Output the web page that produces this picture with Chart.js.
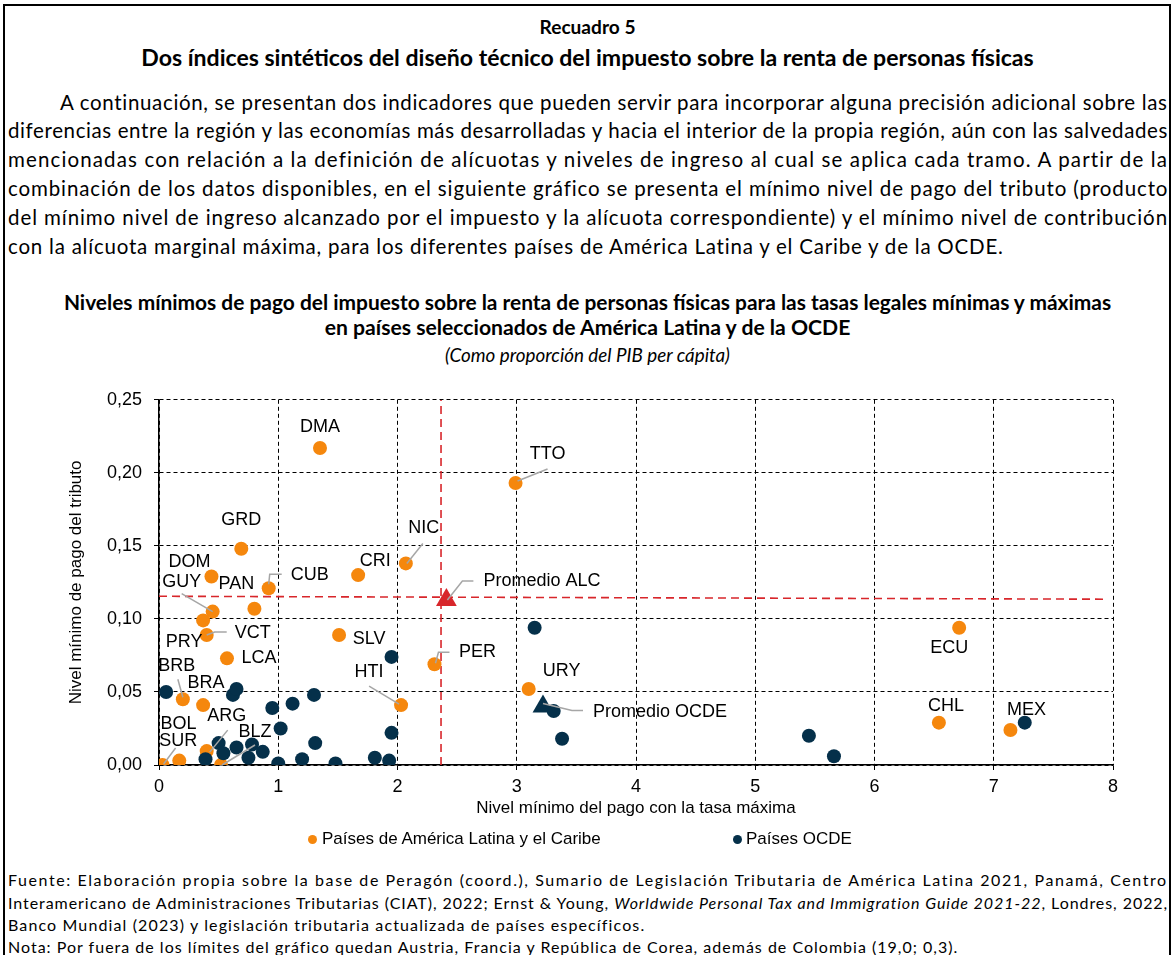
<!DOCTYPE html>
<html lang="es">
  <head>
    <meta charset="utf-8" />
    <title>Recuadro 5 - Niveles mínimos de pago del impuesto</title>
    <script src="https://cdn.jsdelivr.net/npm/chart.js@4.4.1/dist/chart.umd.min.js"></script>
    <style>
      html, body {
        margin: 0;
        padding: 0;
        width: 1175px;
        height: 955px;
        overflow: hidden;
        background: #fff;
        color: #000;
        font-family: "Lato", "Open Sans", sans-serif;
      }
      #frame {
        position: absolute;
        left: 3px;
        top: 4px;
        width: 1164px;
        height: 1000px;
        border: 2px solid #000;
      }
      .t {
        position: absolute;
        white-space: nowrap;
      }
      .c { left: 0; width: 1175px; text-align: center; }
      .ln {
        position: absolute;
        left: 8px;
        white-space: nowrap;
      }
      .para { font-size: 20.5px; line-height: 24px; }
      .note { font-size: 16px; line-height: 20px; }
      #chartWrap {
        position: absolute;
        left: 0;
        top: 377px;
        width: 1175px;
        height: 483px;
      }
      .leg {
        position: absolute;
        top: 829px;
        font-family: "Liberation Sans", Arial, sans-serif;
        font-size: 17px;
        line-height: 20px;
        white-space: nowrap;
      }
      .dot {
        position: absolute;
        top: 6px;
        width: 9px;
        height: 9px;
        border-radius: 50%;
      }
    </style>
  </head>
  <body>
    <div id="frame"></div>

    <div class="t c fit" data-w="96" style="top:15px;font-weight:bold;font-size:19px;line-height:24px;"><span>Recuadro 5</span></div>
    <div class="t c fit" data-w="893" style="top:45px;font-weight:bold;font-size:19px;line-height:24px;"><span>Dos índices sintéticos del diseño técnico del impuesto sobre la renta de personas físicas</span></div>

    <div class="ln para" data-w="1108" style="top:90px;left:60px;"><span>A continuación, se presentan dos indicadores que pueden servir para incorporar alguna precisión adicional sobre las</span></div>
    <div class="ln para" data-w="1160" style="top:118px;"><span>diferencias entre la región y las economías más desarrolladas y hacia el interior de la propia región, aún con las salvedades</span></div>
    <div class="ln para" data-w="1160" style="top:147px;"><span>mencionadas con relación a la definición de alícuotas y niveles de ingreso al cual se aplica cada tramo. A partir de la</span></div>
    <div class="ln para" data-w="1160" style="top:176px;"><span>combinación de los datos disponibles, en el siguiente gráfico se presenta el mínimo nivel de pago del tributo (producto</span></div>
    <div class="ln para" data-w="1160" style="top:205px;"><span>del mínimo nivel de ingreso alcanzado por el impuesto y la alícuota correspondiente) y el mínimo nivel de contribución</span></div>
    <div class="ln para" data-w="996" style="top:234px;"><span>con la alícuota marginal máxima, para los diferentes países de América Latina y el Caribe y de la OCDE.</span></div>

    <div class="t c fit" data-w="1048" style="top:291px;font-weight:bold;font-size:16px;line-height:22px;"><span>Niveles mínimos de pago del impuesto sobre la renta de personas físicas para las tasas legales mínimas y máximas</span></div>
    <div class="t c fit" data-w="526" style="top:316px;font-weight:bold;font-size:16px;line-height:22px;"><span>en países seleccionados de América Latina y de la OCDE</span></div>
    <div class="t c fit" data-w="285" style="top:345px;font-style:italic;font-size:14.5px;line-height:20px;"><span>(Como proporción del PIB per cápita)</span></div>

    <div id="chartWrap"><canvas id="chart" width="1175" height="483"></canvas></div>

    <div class="leg" style="left:322px;"><span class="dot" style="left:-14px;background:#f5870d;"></span>Países de América Latina y el Caribe</div>
    <div class="leg" style="left:746px;"><span class="dot" style="left:-13px;background:#05304a;"></span>Países OCDE</div>

    <div class="ln note" data-w="1160" style="top:870px;"><span>Fuente: Elaboración propia sobre la base de Peragón (coord.), Sumario de Legislación Tributaria de América Latina 2021, Panamá, Centro</span></div>
    <div class="ln note" data-w="1160" style="top:893px;"><span>Interamericano de Administraciones Tributarias (CIAT), 2022; Ernst &amp; Young, <i>Worldwide Personal Tax and Immigration Guide 2021-22</i>, Londres, 2022,</span></div>
    <div class="ln note" data-w="637" style="top:915px;"><span>Banco Mundial (2023) y legislación tributaria actualizada de países específicos.</span></div>
    <div class="ln note" data-w="950" style="top:937px;"><span>Nota: Por fuera de los límites del gráfico quedan Austria, Francia y República de Corea, además de Colombia (19,0; 0,3).</span></div>

    <script>
      // ---- data ----
      const lacNames = ["DMA", "TTO", "GRD", "DOM", "CRI", "NIC", "CUB", "PAN", "GUY", "PRY", "VCT", "LCA", "SLV",
        "HTI", "PER", "URY", "ECU", "CHL", "MEX", "BRB", "BRA", "BOL", "SUR", "ARG", "BLZ"];
      const lacX = [1.35, 2.99, 0.69, 0.44, 1.67, 2.07, 0.92, 0.80, 0.45, 0.37, 0.40, 0.57, 1.51,
        2.03, 2.31, 3.10, 6.71, 6.54, 7.14, 0.20, 0.37, 0.03, 0.17, 0.40, 0.52];
      const lacY = [0.217, 0.193, 0.148, 0.129, 0.130, 0.138, 0.121, 0.107, 0.105, 0.099, 0.089, 0.073, 0.089,
        0.041, 0.069, 0.052, 0.094, 0.029, 0.024, 0.045, 0.041, 0.000, 0.003, 0.0095, 0.000];

      const ocdeX = [0.06, 0.62, 0.65, 0.95, 1.12, 1.30, 1.95, 1.02, 1.95, 1.31, 1.00, 1.20, 1.48, 1.81,
        1.93, 0.39, 0.50, 0.54, 0.65, 0.75, 0.78, 0.87, 3.15, 3.31, 3.38, 5.45, 5.66, 7.26];
      const ocdeY = [0.050, 0.048, 0.052, 0.039, 0.042, 0.048, 0.074, 0.025, 0.022, 0.015, 0.001, 0.004, 0.001, 0.005,
        0.003, 0.004, 0.015, 0.008, 0.012, 0.005, 0.014, 0.009, 0.094, 0.037, 0.018, 0.020, 0.006, 0.029];

      const avgNames = ["Promedio ALC", "Promedio OCDE"];
      const avgX = [2.41, 3.22];
      const avgY = [0.113, 0.040];

      // red reference lines (ALC averages)
      const vLineX = [2.365, 2.365];
      const vLineY = [0, 0.25];
      const hLineX = [0, 7.93];
      const hLineY = [0.1155, 0.1135];

      const yTicks = [0, 0.05, 0.10, 0.15, 0.20, 0.25];

      // ---- label placement (pixel offsets from the point) ----
      const labelPos = {
        DMA: [0, -21], TTO: [32, -29], GRD: [0, -29], DOM: [-22, -15], CRI: [17, -14], NIC: [18, -35],
        CUB: [41, -13], PAN: [-18, -25], GUY: [-31, -30], PRY: [-19, 22], VCT: [46, -2], LCA: [32, 0],
        SLV: [30, 4], HTI: [-32, -33], PER: [43, -12], URY: [33, -18], ECU: [-10, 20], CHL: [7, -17],
        MEX: [16, -20], BRB: [-6, -33], BRA: [3, -22], BOL: [16, -41], SUR: [-1, -20], ARG: [20, -35],
        BLZ: [34, -33]
      };
      const leaders = {
        TTO: [[2, -2], [32, -14]],
        NIC: [[1, 0], [17, -20]],
        CUB: [[0, -4], [1, -14], [13, -14]],
        GUY: [[0, 0], [-31, -18]],
        VCT: [[0, 0], [8, -3], [20, -3]],
        HTI: [[-2, -1], [-32, -19]],
        PER: [[1, -1], [4, -12], [15, -12]],
        BRB: [[0, -2], [-5, -20]],
        BOL: [[1, -1], [13, -17]],
        ARG: [[3, 1], [21, -21]],
        BLZ: [[1, 0], [34, -20]]
      };
      const avgLabelPos = [[37, -19], [50, 5]];
      const avgLeaders = [[[1, 0], [16, -19], [27, -19]], [[0, -3], [29, 4], [40, 4]]];

      const ORANGE = "#f5870d";
      const NAVY = "#05304a";
      const RED = "#d8262b";
      const chartFont = '"Liberation Sans", Arial, sans-serif';

      const pts = (xs, ys) => xs.map((x, i) => ({ x: x, y: ys[i] }));

      function drawLeader(ctx, px, py, path) {
        ctx.beginPath();
        path.forEach((p, k) => {
          if (k === 0) ctx.moveTo(px + p[0], py + p[1]);
          else ctx.lineTo(px + p[0], py + p[1]);
        });
        ctx.stroke();
      }

      const pointLabels = {
        id: "pointLabels",
        afterDatasetsDraw(chart) {
          const ctx = chart.ctx;
          ctx.save();
          ctx.font = "18px " + chartFont;
          ctx.fillStyle = "#000";
          ctx.strokeStyle = "#a6a6a6";
          ctx.lineWidth = 1.5;
          ctx.textBaseline = "middle";

          const lacMeta = chart.getDatasetMeta(3);
          lacNames.forEach((name, i) => {
            const el = lacMeta.data[i];
            if (leaders[name]) drawLeader(ctx, el.x, el.y, leaders[name]);
            const off = labelPos[name];
            ctx.textAlign = "center";
            ctx.fillText(name, el.x + off[0], el.y + off[1]);
          });

          avgNames.forEach((name, i) => {
            const el = chart.getDatasetMeta(i).data[0];
            drawLeader(ctx, el.x, el.y, avgLeaders[i]);
            ctx.textAlign = "left";
            ctx.fillText(name, el.x + avgLabelPos[i][0], el.y + avgLabelPos[i][1]);
          });
          ctx.restore();
        }
      };

      new Chart(document.getElementById("chart"), {
        type: "scatter",
        data: {
          datasets: [
            {
              label: avgNames[0],
              data: [{ x: avgX[0], y: avgY[0] }],
              pointStyle: "triangle",
              pointRadius: 12,
              backgroundColor: RED,
              borderWidth: 0,
              order: 0
            },
            {
              label: avgNames[1],
              data: [{ x: avgX[1], y: avgY[1] }],
              pointStyle: "triangle",
              pointRadius: 12,
              backgroundColor: NAVY,
              borderWidth: 0,
              order: 0
            },
            {
              label: "Países OCDE",
              data: pts(ocdeX, ocdeY),
              pointRadius: 7,
              backgroundColor: NAVY,
              borderWidth: 0,
              order: 1
            },
            {
              label: "Países de América Latina y el Caribe",
              data: pts(lacX, lacY),
              pointRadius: 7,
              backgroundColor: ORANGE,
              borderWidth: 0,
              order: 2
            },
            {
              type: "line",
              label: "vline",
              data: pts(vLineX, vLineY),
              borderColor: RED,
              borderWidth: 1.6,
              borderDash: [8, 5],
              pointRadius: 0,
              order: 3
            },
            {
              type: "line",
              label: "hline",
              data: pts(hLineX, hLineY),
              borderColor: RED,
              borderWidth: 1.6,
              borderDash: [8, 5],
              pointRadius: 0,
              order: 3
            }
          ]
        },
        options: {
          responsive: false,
          animation: false,
          events: [],
          layout: { padding: { left: 62, right: 62, top: 15, bottom: 37 } },
          plugins: {
            legend: { display: false },
            tooltip: { enabled: false }
          },
          scales: {
            x: {
              type: "linear",
              min: 0,
              max: 8,
              ticks: {
                stepSize: 1,
                color: "#000",
                padding: 6,
                font: { family: chartFont, size: 18 }
              },
              grid: { color: "#000", lineWidth: 1, tickLength: 5 },
              border: { display: true, color: "#000", width: 1.5, dash: [4, 3] },
              title: {
                display: true,
                text: "Nivel mínimo del pago con la tasa máxima",
                color: "#000",
                font: { family: chartFont, size: 17 },
                padding: { top: 2, bottom: 4 }
              },
              afterFit: (s) => { s.height = 58; }
            },
            y: {
              type: "linear",
              min: 0,
              max: 0.25,
              afterBuildTicks: (s) => { s.ticks = yTicks.map((v) => ({ value: v })); },
              ticks: {
                color: "#000",
                padding: 12,
                font: { family: chartFont, size: 18 },
                callback: (v) => v.toFixed(2).replace(".", ",")
              },
              grid: { color: "#000", lineWidth: 1, tickLength: 5 },
              border: { display: true, color: "#000", width: 1.5, dash: [4, 3] },
              title: {
                display: true,
                text: "Nivel mínimo de pago del tributo",
                color: "#000",
                font: { family: chartFont, size: 17 },
                padding: { top: 4, bottom: 4 }
              },
              afterFit: (s) => { s.width = 97; }
            }
          }
        },
        plugins: [pointLabels]
      });

      // stretch each text line to the width it has in the reference, and size centred titles
      document.querySelectorAll(".ln").forEach((el) => {
        const span = el.querySelector("span");
        const natural = span.getBoundingClientRect().width;
        const n = span.textContent.length;
        span.style.letterSpacing = ((Number(el.dataset.w) - natural) / n) + "px";
      });
      document.querySelectorAll(".fit").forEach((el) => {
        const span = el.querySelector("span");
        const w = span.getBoundingClientRect().width;
        const fs = parseFloat(getComputedStyle(el).fontSize);
        el.style.fontSize = (fs * Number(el.dataset.w) / w) + "px";
      });
    </script>
  </body>
</html>
